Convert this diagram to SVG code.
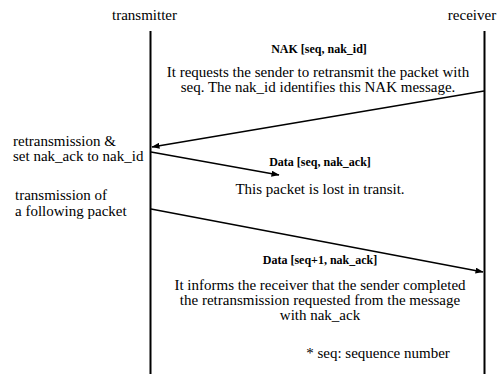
<svg xmlns="http://www.w3.org/2000/svg" width="502" height="374" viewBox="0 0 502 374">
<defs>
<marker id="ah" markerWidth="8" markerHeight="6" refX="7.5" refY="3" orient="auto" markerUnits="userSpaceOnUse">
<path d="M0,0 L8,3 L0,6 Z" fill="#000"/>
</marker>
<style>
.life{stroke:#000;stroke-width:2;fill:none}
.msg{stroke:#000;stroke-width:1.5;fill:none;marker-end:url(#ah)}
</style>
</defs>
<rect width="502" height="374" fill="#fff"/>
<g id="transmitter">
<text font-family="Times New Roman" font-size="15" text-anchor="middle" x="144.5" y="20">transmitter</text>
<line class="life" x1="150.5" y1="31" x2="150.5" y2="374"/>
</g>
<g id="receiver">
<text font-family="Times New Roman" font-size="15" text-anchor="middle" x="472" y="20">receiver</text>
<line class="life" x1="484.5" y1="31" x2="484.5" y2="374"/>
</g>
<g id="connectors">
<line class="msg" x1="484" y1="91" x2="152" y2="147"/>
<line class="msg" x1="151" y1="152" x2="279" y2="175"/>
<line class="msg" x1="151" y1="209" x2="483" y2="272"/>
</g>
<g id="nak-label">
<text font-family="Times New Roman" font-size="12" font-weight="bold" text-anchor="middle" x="319" y="53">NAK [seq, nak_id]</text>
<text font-family="Times New Roman" font-size="15" text-anchor="middle" x="318" y="77">It requests the sender to retransmit the packet with</text>
<text font-family="Times New Roman" font-size="15" text-anchor="middle" x="318" y="92">seq. The nak_id identifies this NAK message.</text>
</g>
<g id="retrans-label">
<text font-family="Times New Roman" font-size="15" x="13" y="146">retransmission &amp;</text>
<text font-family="Times New Roman" font-size="15" x="13" y="161">set nak_ack to nak_id</text>
</g>
<g id="following-label">
<text font-family="Times New Roman" font-size="15" x="15" y="200">transmission of</text>
<text font-family="Times New Roman" font-size="15" x="15" y="216">a following packet</text>
</g>
<g id="lost-label">
<text font-family="Times New Roman" font-size="12" font-weight="bold" text-anchor="middle" x="320" y="166">Data [seq, nak_ack]</text>
<text font-family="Times New Roman" font-size="15" text-anchor="middle" x="320" y="194">This packet is lost in transit.</text>
</g>
<g id="data2-label">
<text font-family="Times New Roman" font-size="12" font-weight="bold" text-anchor="middle" x="320" y="264">Data [seq+1, nak_ack]</text>
<text font-family="Times New Roman" font-size="15" text-anchor="middle" x="320" y="290">It informs the receiver that the sender completed</text>
<text font-family="Times New Roman" font-size="15" text-anchor="middle" x="320" y="305">the retransmission requested from the message</text>
<text font-family="Times New Roman" font-size="15" text-anchor="middle" x="320" y="320">with nak_ack</text>
</g>
<g id="note">
<text font-family="Times New Roman" font-size="15" text-anchor="middle" x="378" y="358">* seq: sequence number</text>
</g>
</svg>
